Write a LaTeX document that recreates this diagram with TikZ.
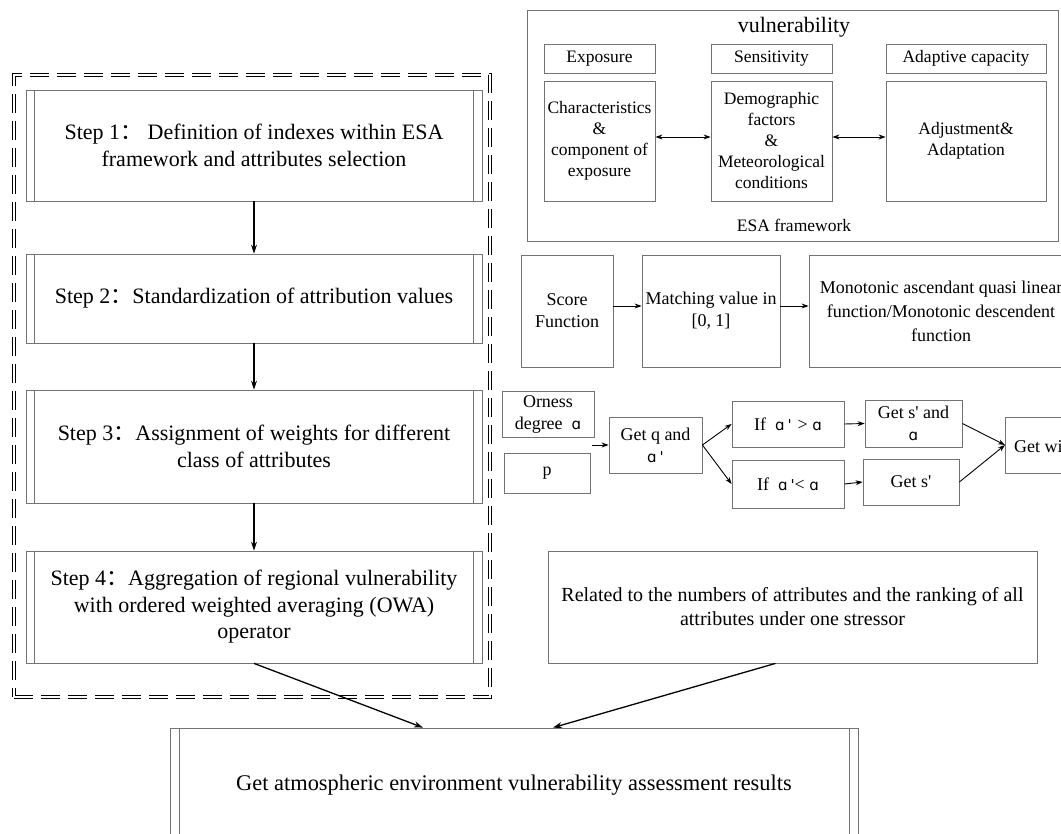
\documentclass[tikz,border=0pt]{standalone}
\usepackage{fontspec}
\setmainfont{Liberation Serif}
\newfontfamily\cjk{Noto Sans CJK SC}
\newfontfamily\alfont{DejaVu Sans}
\usetikzlibrary{arrows.meta}
\newcommand{\al}{{\alfont\fontsize{15}{18}\selectfont ɑ}}
\newcommand{\pr}{{\alfont\fontsize{15}{18}\selectfont\textquotesingle}}
\newcommand{\fc}{{\cjk ：}}
\tikzset{
  bx/.style={draw=black!55, line width=0.8pt, rectangle, inner sep=0pt, align=center,
    font=\fontsize{18}{22}\selectfont},
  esabox/.style={bx, font=\fontsize{17.5}{21}\selectfont},
  stepbox/.style={bx, font=\fontsize{22}{26.5}\selectfont},
  arr/.style={-{Stealth[length=9pt,width=6pt]}, line width=1.3pt, black},
  sarr/.style={-{Stealth[length=7pt,width=5pt]}, line width=0.9pt, black},
  darr/.style={{Stealth[length=7pt,width=5pt]}-{Stealth[length=7pt,width=5pt]}, line width=0.9pt, black},
  frame/.style={draw=black, line width=0.8pt, double, double distance=2pt, dash pattern=on 19pt off 8pt, inner sep=0pt}
}
\begin{document}
\begin{tikzpicture}[x=1pt,y=-1pt]
\useasboundingbox (0,0) rectangle (1061,834);

% left dashed frame
\node[frame, minimum width=476pt, minimum height=622pt] (fr) at (252,386) {};

% steps
\node[stepbox, minimum width=456pt, minimum height=111pt] (s1) at (254,145.5)
  {Step 1\fc\ Definition of indexes within ESA\\framework and attributes selection};
\node[stepbox, minimum width=456pt, minimum height=89pt] (s2) at (254,298.5)
  {Step 2\fc Standardization of attribution values};
\node[stepbox, minimum width=456pt, minimum height=113pt] (s3) at (254,446.5)
  {Step 3\fc Assignment of weights for different\\class of attributes};
\node[stepbox, minimum width=456pt, minimum height=112pt] (s4) at (254,607)
  {Step 4\fc Aggregation of regional vulnerability\\with ordered weighted averaging (OWA)\\operator};
\foreach \n in {s1,s2,s3,s4}{
  \draw[draw=black!55, line width=0.8pt] ([xshift=9pt]\n.north west) -- ([xshift=9pt]\n.south west);
  \draw[draw=black!55, line width=0.8pt] ([xshift=-9pt]\n.north east) -- ([xshift=-9pt]\n.south east);
}
\draw[arr] (s1.south) -- (s2.north);
\draw[arr] (s2.south) -- (s3.north);
\draw[arr] (s3.south) -- (s4.north);

% ESA framework
\node[bx, minimum width=531pt, minimum height=231pt] (esa) at (792.5,125.5) {};
\node[font=\fontsize{22}{24}\selectfont, inner sep=0pt] (vul) at (794,27) {vulnerability};
\node[font=\fontsize{17.5}{21}\selectfont, inner sep=0pt] (esal) at (794,225) {ESA framework};
\node[esabox, minimum width=111pt, minimum height=29pt] (exp) at (599.5,58.5) {Exposure};
\node[esabox, minimum width=121pt, minimum height=29pt] (sen) at (771.5,58.5) {Sensitivity};
\node[esabox, minimum width=160pt, minimum height=29pt] (ada) at (966,58.5) {Adaptive capacity};
\node[esabox, minimum width=111pt, minimum height=120pt] (cha) at (599.5,141)
  {Characteristics\\\&\\component of\\exposure};
\node[esabox, minimum width=121pt, minimum height=120pt] (dem) at (771.5,141)
  {Demographic\\factors\\\&\\Meteorological\\conditions};
\node[esabox, minimum width=160pt, minimum height=120pt] (adj) at (966,141)
  {Adjustment\&\\Adaptation};
\draw[darr] ([yshift=4pt]cha.east) -- ([yshift=4pt]dem.west);
\draw[darr] ([yshift=4pt]dem.east) -- ([yshift=4pt]adj.west);

% score function row
\node[bx, minimum width=92pt, minimum height=112pt] (score) at (567,311) {Score\\Function};
\node[bx, minimum width=138pt, minimum height=112pt] (match) at (711,311) {Matching value in\\{[0, 1]}};
\node[bx, minimum width=264pt, minimum height=112pt, font=\fontsize{18}{24}\selectfont] (mono) at (941,311)
  {Monotonic ascendant quasi linear\\function/Monotonic descendent\\function};
\draw[sarr] ([yshift=5pt]score.east) -- ([yshift=5pt]match.west);
\draw[sarr] ([yshift=5pt]match.east) -- ([yshift=5pt]mono.west);

% orness row
\node[bx, minimum width=92pt, minimum height=46pt] (orn) at (548,414) {Orness\\degree\ \ \al};
\node[bx, minimum width=86pt, minimum height=40pt] (p) at (547,473) {p};
\node[bx, minimum width=93pt, minimum height=56pt] (getq) at (655.5,445) {Get q and\\\al\,\pr};
\node[bx, minimum width=112pt, minimum height=46pt] (ifg) at (788,424) {If \ \al\,\pr\,\,> \al};
\node[bx, minimum width=112pt, minimum height=48pt] (ifl) at (788,484) {If \ \al\,\pr< \al};
\node[bx, minimum width=97pt, minimum height=47pt] (gsa) at (913.5,423.5) {Get s\textquotesingle\ and\\\al};
\node[bx, minimum width=96pt, minimum height=46pt] (gs) at (911,482) {Get s\textquotesingle};
\node[bx, minimum width=100pt, minimum height=56pt, anchor=west] (gw) at (1005,445) {};
\node[anchor=west, inner sep=0pt, font=\fontsize{18}{22}\selectfont] (gwt) at (1014,447) {Get wi};
\coordinate (inarr) at (592,445);
\draw[sarr] (inarr) -- (getq.west);
\draw[sarr] (getq.east) -- (ifg.west);
\draw[sarr] (getq.east) -- (ifl.west);
\draw[sarr] (ifg.east) -- (gsa.west);
\draw[sarr] (ifl.east) -- (gs.west);
\draw[sarr] (gsa.east) -- (gw.west);
\draw[sarr] (gs.east) -- (gw.west);

% related box
\node[bx, minimum width=489pt, minimum height=112pt, font=\fontsize{20}{24}\selectfont] (rel) at (792.5,607)
  {Related to the numbers of attributes and the ranking of all\\attributes under one stressor};

% final box
\node[bx, minimum width=688pt, minimum height=117pt] (fin) at (514,786.5) {};
\node[inner sep=0pt, font=\fontsize{22.4}{26}\selectfont] (fint) at (514,785)
  {Get atmospheric environment vulnerability assessment results};
\draw[draw=black!55, line width=0.8pt] ([xshift=10pt]fin.north west) -- ([xshift=10pt]fin.south west);
\draw[draw=black!55, line width=0.8pt] ([xshift=-9pt]fin.north east) -- ([xshift=-9pt]fin.south east);

\draw[arr] (s4.south) -- ([xshift=-91pt]fin.north);
\draw[arr] ([xshift=-17pt]rel.south) -- ([xshift=39pt]fin.north);
\end{tikzpicture}
\end{document}
